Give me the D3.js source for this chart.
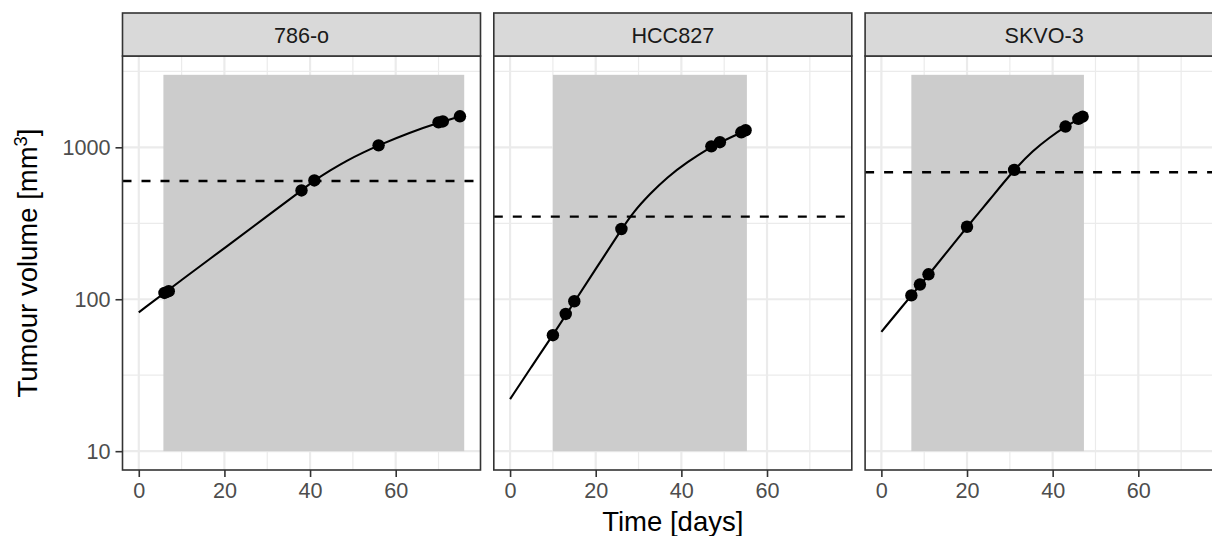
<!DOCTYPE html>
<html>
<head>
<meta charset="utf-8">
<script src="https://cdn.jsdelivr.net/npm/d3@7"></script>
<style>
  body { margin: 0; background: #fff; }
  svg { display: block; font-family: "Liberation Sans", Arial, sans-serif; }
</style>
</head>
<body>
<svg id="chart"></svg>
<script>
// chart data
var panels = ["786-o", "HCC827", "SKVO-3"];

var obsDays = [
	[6, 7, 38, 41, 56, 70, 71, 75],
	[10, 13, 15, 26, 47, 49, 54, 55],
	[7, 9, 11, 20, 31, 43, 46, 47]
];
var obsVolume = [
	[110, 113, 520, 605, 1030, 1460, 1480, 1600],
	[58, 80, 97, 290, 1015, 1080, 1255, 1295],
	[106, 125, 146, 300, 710, 1370, 1540, 1590]
];

var fitDays = [
	[0, 10, 20, 30, 38, 41, 44.7, 48.6, 52.4, 56, 63.3, 70, 75],
	[0, 5, 10, 15, 20, 26, 28.8, 32.7, 36.6, 41.3, 47, 49, 55],
	[0, 7, 11, 20, 25.3, 31, 35.4, 39.3, 43, 47]
];
var fitVolume = [
	[82, 134, 217, 353, 520, 605, 705, 818, 925, 1030, 1254, 1450, 1600],
	[22, 36, 58, 96, 158, 288, 375, 495, 632, 798, 1010, 1075, 1290],
	[61, 106, 144, 300, 452, 712, 951, 1163, 1370, 1590]
];

var thresholds = [600, 350, 685];
var treatStart = [5.75, 10, 7];
var treatEnd = [76, 55.3, 47.3];
var shadeLow = 10, shadeHigh = 3000;

var xTicks = [0, 20, 40, 60];
var xMinor = [10, 30, 50, 70];
var yTicks = [10, 100, 1000];
var yMinor = [Math.sqrt(10) * 10, Math.sqrt(10) * 100, Math.sqrt(10) * 1000];

// layout
var width = 1212, height = 536;
var panelLeft = 122.5, panelW = 358, panelStep = 371.3;
var stripTop = 13, panelTop = 56, panelBottom = 470;
var tickFont = 21.6, titleFont = 27.5;

var svg = d3.select("#chart")
	.attr("width", width)
	.attr("height", height);

// ggplot-like 5% expansion
var xLo = 0, xHi = 76;
var xPad = (xHi - xLo) * 0.05;
var lLo = Math.log10(shadeLow), lHi = Math.log10(shadeHigh);
var lPad = (lHi - lLo) * 0.05;

var y = d3.scaleLog()
	.domain([Math.pow(10, lLo - lPad), Math.pow(10, lHi + lPad)])
	.range([panelBottom, panelTop]);

var defs = svg.append("defs");

panels.forEach(function(name, i) {
	var left = panelLeft + i * panelStep;
	var x = d3.scaleLinear()
		.domain([xLo - xPad, xHi + xPad])
		.range([left, left + panelW]);

	defs.append("clipPath").attr("id", "clip" + i)
		.append("rect")
		.attr("x", left).attr("y", panelTop)
		.attr("width", panelW).attr("height", panelBottom - panelTop);

	var g = svg.append("g").attr("clip-path", "url(#clip" + i + ")");

	g.append("rect")
		.attr("x", left).attr("y", panelTop)
		.attr("width", panelW).attr("height", panelBottom - panelTop)
		.attr("fill", "#fff");

	// grid
	g.selectAll(".vminor").data(xMinor).enter().append("line")
		.attr("x1", function(d) { return x(d); }).attr("x2", function(d) { return x(d); })
		.attr("y1", panelTop).attr("y2", panelBottom)
		.attr("stroke", "#EBEBEB").attr("stroke-width", 1.2);
	g.selectAll(".hminor").data(yMinor).enter().append("line")
		.attr("x1", left).attr("x2", left + panelW)
		.attr("y1", function(d) { return y(d); }).attr("y2", function(d) { return y(d); })
		.attr("stroke", "#EBEBEB").attr("stroke-width", 1.2);
	g.selectAll(".vmajor").data(xTicks).enter().append("line")
		.attr("x1", function(d) { return x(d); }).attr("x2", function(d) { return x(d); })
		.attr("y1", panelTop).attr("y2", panelBottom)
		.attr("stroke", "#EBEBEB").attr("stroke-width", 2.2);
	g.selectAll(".hmajor").data(yTicks).enter().append("line")
		.attr("x1", left).attr("x2", left + panelW)
		.attr("y1", function(d) { return y(d); }).attr("y2", function(d) { return y(d); })
		.attr("stroke", "#EBEBEB").attr("stroke-width", 2.2);

	// treatment window
	g.append("rect")
		.attr("x", x(treatStart[i]))
		.attr("y", y(shadeHigh))
		.attr("width", x(treatEnd[i]) - x(treatStart[i]))
		.attr("height", y(shadeLow) - y(shadeHigh))
		.attr("fill", "#CCCCCC");

	// threshold
	g.append("line")
		.attr("x1", left).attr("x2", left + panelW)
		.attr("y1", y(thresholds[i])).attr("y2", y(thresholds[i]))
		.attr("stroke", "#000").attr("stroke-width", 2.3)
		.attr("stroke-dasharray", "9,10");

	// fitted curve
	var fit = fitDays[i].map(function(d, k) { return [d, fitVolume[i][k]]; });
	var line = d3.line()
		.x(function(d) { return x(d[0]); })
		.y(function(d) { return y(d[1]); })
		.curve(d3.curveBasis);
	g.append("path")
		.attr("d", line(fit))
		.attr("fill", "none")
		.attr("stroke", "#000")
		.attr("stroke-width", 2.1);

	// observations
	var obs = obsDays[i].map(function(d, k) { return [d, obsVolume[i][k]]; });
	g.selectAll("circle").data(obs).enter().append("circle")
		.attr("cx", function(d) { return x(d[0]); })
		.attr("cy", function(d) { return y(d[1]); })
		.attr("r", 6.2)
		.attr("fill", "#000");

	// panel border
	svg.append("rect")
		.attr("x", left).attr("y", panelTop)
		.attr("width", panelW).attr("height", panelBottom - panelTop)
		.attr("fill", "none").attr("stroke", "#333333").attr("stroke-width", 1.6);

	// strip
	svg.append("rect")
		.attr("x", left).attr("y", stripTop)
		.attr("width", panelW).attr("height", panelTop - stripTop)
		.attr("fill", "#D9D9D9").attr("stroke", "#333333").attr("stroke-width", 1.6);
	svg.append("text")
		.attr("x", left + panelW / 2).attr("y", 43)
		.attr("text-anchor", "middle")
		.attr("font-size", tickFont)
		.attr("fill", "#1A1A1A")
		.text(name);

	// x axis
	var xa = svg.append("g")
		.attr("transform", "translate(0," + panelBottom + ")")
		.call(d3.axisBottom(x).tickValues(xTicks).tickSize(7).tickPadding(6));
	xa.select(".domain").remove();
	xa.selectAll(".tick line").attr("stroke", "#333333").attr("stroke-width", 1.6);
	xa.selectAll(".tick text")
		.attr("font-size", tickFont)
		.attr("font-family", "Liberation Sans, Arial, sans-serif")
		.attr("fill", "#4D4D4D");

	if (i == 0) {
		var ya = svg.append("g")
			.attr("transform", "translate(" + left + ",0)")
			.call(d3.axisLeft(y).tickValues(yTicks).tickFormat(d3.format("d")).tickSize(7).tickPadding(5));
		ya.select(".domain").remove();
		ya.selectAll(".tick line").attr("stroke", "#333333").attr("stroke-width", 1.6);
		ya.selectAll(".tick text")
			.attr("font-size", tickFont)
			.attr("font-family", "Liberation Sans, Arial, sans-serif")
			.attr("fill", "#4D4D4D");
	}
});

// axis titles
var fullRight = panelLeft + 2 * panelStep + panelW;
svg.append("text")
	.attr("x", (panelLeft + fullRight) / 2)
	.attr("y", 531)
	.attr("text-anchor", "middle")
	.attr("font-size", titleFont)
	.attr("fill", "#000")
	.text("Time [days]");

var yt = svg.append("text")
	.attr("transform", "translate(37," + (panelTop + panelBottom) / 2 + ") rotate(-90)")
	.attr("text-anchor", "middle")
	.attr("font-size", titleFont)
	.attr("fill", "#000");
yt.append("tspan").text("Tumour volume [mm");
yt.append("tspan").attr("baseline-shift", "super").attr("font-size", tickFont * 0.85).text("3");
yt.append("tspan").text("]");
</script>
</body>
</html>
